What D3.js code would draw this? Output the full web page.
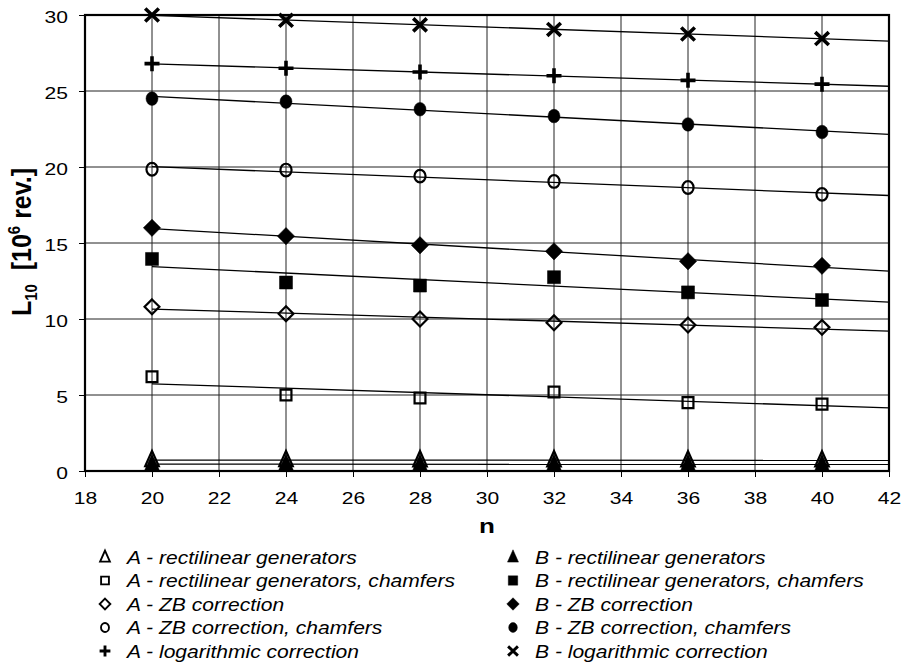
<!DOCTYPE html>
<html>
<head>
<meta charset="utf-8">
<script src="https://cdn.jsdelivr.net/npm/d3@7"></script>
<style>
  body { margin: 0; background: #fff; }
  svg text { font-family: Arial, "Liberation Sans", sans-serif; }
</style>
</head>
<body>
<div id="chart"></div>
<script>
// n values
const nValues = [20, 24, 28, 32, 36, 40];

// L10 values [10^6 rev.]
const aRect = [0.72, 0.72, 0.71, 0.71, 0.70, 0.70];
const bRect = [0.45, 0.45, 0.44, 0.44, 0.44, 0.43];
const aRectCh = [6.2, 5.0, 4.8, 5.2, 4.5, 4.4];
const bRectCh = [13.95, 12.4, 12.2, 12.75, 11.75, 11.25];
const aZB = [10.8, 10.35, 10.0, 9.75, 9.6, 9.45];
const bZB = [16.0, 15.45, 14.85, 14.45, 13.8, 13.5];
const aZBCh = [19.85, 19.8, 19.4, 19.05, 18.65, 18.2];
const bZBCh = [24.5, 24.3, 23.8, 23.35, 22.8, 22.3];
const aLog = [26.8, 26.5, 26.25, 26.0, 25.7, 25.45];
const bLog = [30.0, 29.65, 29.35, 29.05, 28.75, 28.45];

const xTicks = d3.range(18, 43, 2);
const yTicks = [0, 5, 10, 15, 20, 25, 30];

const series = [
  { name: 'A - rectilinear generators', values: aRect, shape: 'triangle', filled: false },
  { name: 'B - rectilinear generators', values: bRect, shape: 'triangle', filled: true },
  { name: 'A - rectilinear generators, chamfers', values: aRectCh, shape: 'square', filled: false },
  { name: 'B - rectilinear generators, chamfers', values: bRectCh, shape: 'square', filled: true },
  { name: 'A - ZB correction', values: aZB, shape: 'diamond', filled: false },
  { name: 'B - ZB correction', values: bZB, shape: 'diamond', filled: true },
  { name: 'A - ZB correction, chamfers', values: aZBCh, shape: 'circle', filled: false },
  { name: 'B - ZB correction, chamfers', values: bZBCh, shape: 'circle', filled: true },
  { name: 'A - logarithmic correction', values: aLog, shape: 'plus', filled: true },
  { name: 'B - logarithmic correction', values: bLog, shape: 'times', filled: true }
];

const width = 902, height = 671;
const margin = { left: 85, right: 13, top: 15, bottom: 200 };
const SX = 1.24;   // the picture's text is stretched sideways
const SXL = 1.17;  // legend text

const svg = d3.select('#chart').append('svg')
  .attr('width', width)
  .attr('height', height);

const x = d3.scaleLinear().domain([18, 42]).range([margin.left, width - margin.right]);
const y = d3.scaleLinear().domain([0, 30]).range([height - margin.bottom, margin.top]);

// grid
svg.append('g')
  .selectAll('line')
  .data(xTicks)
  .join('line')
  .attr('x1', d => x(d)).attr('x2', d => x(d))
  .attr('y1', y(0)).attr('y2', y(30))
  .attr('stroke', '#222').attr('stroke-width', 1);

svg.append('g')
  .selectAll('line')
  .data(yTicks)
  .join('line')
  .attr('x1', x(18)).attr('x2', x(42))
  .attr('y1', d => y(d)).attr('y2', d => y(d))
  .attr('stroke', '#222').attr('stroke-width', 1);

// axes
const xAxis = svg.append('g')
  .attr('transform', `translate(0,${y(0)})`)
  .call(d3.axisBottom(x).tickValues(xTicks).tickSize(6).tickSizeOuter(0));
const yAxis = svg.append('g')
  .attr('transform', `translate(${x(18)},0)`)
  .call(d3.axisLeft(y).tickValues(yTicks).tickSize(6).tickSizeOuter(0));
[xAxis, yAxis].forEach(a => {
  a.select('.domain').remove();
  a.selectAll('.tick line').attr('stroke', '#000');
  a.selectAll('.tick text').attr('fill', '#000').style('font-size', '17px')
    .attr('transform', `scale(${SX},1)`);
});
xAxis.selectAll('.tick text').attr('y', 33).attr('dy', 0);
yAxis.selectAll('.tick text').attr('x', -17 / SX).attr('dy', '0.42em');

// plot border
svg.append('rect')
  .attr('x', x(18)).attr('y', y(30))
  .attr('width', x(42) - x(18)).attr('height', y(0) - y(30))
  .attr('fill', 'none').attr('stroke', '#000').attr('stroke-width', 2.2);

// linear trend lines, n = 20 .. 42
function trend(vals) {
  const mx = d3.mean(nValues), my = d3.mean(vals);
  const b = d3.sum(nValues, (n, i) => (n - mx) * (vals[i] - my)) / d3.sum(nValues, n => (n - mx) ** 2);
  const a = my - b * mx;
  return [[20, a + b * 20], [42, a + b * 42]];
}
const line = d3.line().x(d => x(d[0])).y(d => y(d[1]));
svg.append('g')
  .selectAll('path')
  .data(series)
  .join('path')
  .attr('fill', 'none')
  .attr('stroke', '#000')
  .attr('stroke-width', 1.3)
  .attr('d', d => line(trend(d.values)));

// markers; k scales the marker (1 = plot, smaller for legend)
function drawMarker(g, s, k) {
  const open = !s.filled;
  const sw = open ? 2.2 * Math.max(k, 0.85) : 0.5;
  const fill = open ? 'none' : '#000';
  if (s.shape === 'plus' || s.shape === 'times') {
    const h = (s.shape === 'plus' ? 7.5 : 6.8) * k;
    const p = d3.path();
    if (s.shape === 'plus') {
      p.moveTo(-h, 0); p.lineTo(h, 0); p.moveTo(0, -h); p.lineTo(0, h);
    } else {
      p.moveTo(-h, -h * 0.95); p.lineTo(h, h * 0.95); p.moveTo(-h, h * 0.95); p.lineTo(h, -h * 0.95);
    }
    g.append('path').attr('d', p.toString())
      .attr('fill', 'none').attr('stroke', '#000').attr('stroke-width', 3.6 * Math.max(k, 0.8));
    return;
  }
  let sym, size, tr = null;
  if (s.shape === 'triangle') { sym = d3.symbolTriangle; size = (open ? 80 : 100) * k * k; tr = 'translate(0,1) scale(1,1.3)'; }
  if (s.shape === 'square') { sym = d3.symbolSquare; size = (open ? 118 : 169) * k * k; }
  if (s.shape === 'diamond') { sym = d3.symbolSquare; size = (open ? 110 : 150) * k * k; tr = 'rotate(45)'; }
  if (s.shape === 'circle') { sym = d3.symbolCircle; size = (open ? 125 : 145) * k * k; tr = 'scale(0.88,1)'; }
  g.append('path')
    .attr('d', d3.symbol(sym, size)())
    .attr('transform', tr)
    .attr('fill', fill)
    .attr('stroke', '#000')
    .attr('stroke-width', sw)
    .attr('vector-effect', 'non-scaling-stroke');
}

series.forEach(s => {
  s.values.forEach((v, i) => {
    const g = svg.append('g').attr('transform', `translate(${x(nValues[i])},${y(v)})`);
    drawMarker(g, s, 1);
  });
});

// axis titles
svg.append('text')
  .attr('transform', `translate(${x(30)},533) scale(${SX},1)`)
  .attr('text-anchor', 'middle')
  .style('font-size', '21px').style('font-weight', 'bold')
  .text('n');

const yt = svg.append('text')
  .attr('transform', `translate(31,242) rotate(-90) scale(1,1.1)`)
  .attr('text-anchor', 'middle')
  .style('font-size', '25px').style('font-weight', 'bold')
  .style('white-space', 'pre');
yt.append('tspan').text('L');
yt.append('tspan').attr('dy', 5).style('font-size', '15px').text('10');
yt.append('tspan').attr('dy', -5).text('  [10');
yt.append('tspan').attr('dy', -10).style('font-size', '15px').text('6');
yt.append('tspan').attr('dy', 10).text(' rev.]');

// legend
const legend = svg.append('g');
series.forEach((s, i) => {
  const col = i % 2, row = Math.floor(i / 2);
  const lx = col === 0 ? 105 : 513;
  const ly = 557 + row * 23.5;
  const g = legend.append('g').attr('transform', `translate(${lx},${ly})`);
  drawMarker(g, s, 0.72);
  g.append('text')
    .attr('transform', `translate(22,6.5) scale(${SXL},1)`)
    .style('font-size', '18px').style('font-style', 'italic')
    .text(s.name);
});
</script>
</body>
</html>
